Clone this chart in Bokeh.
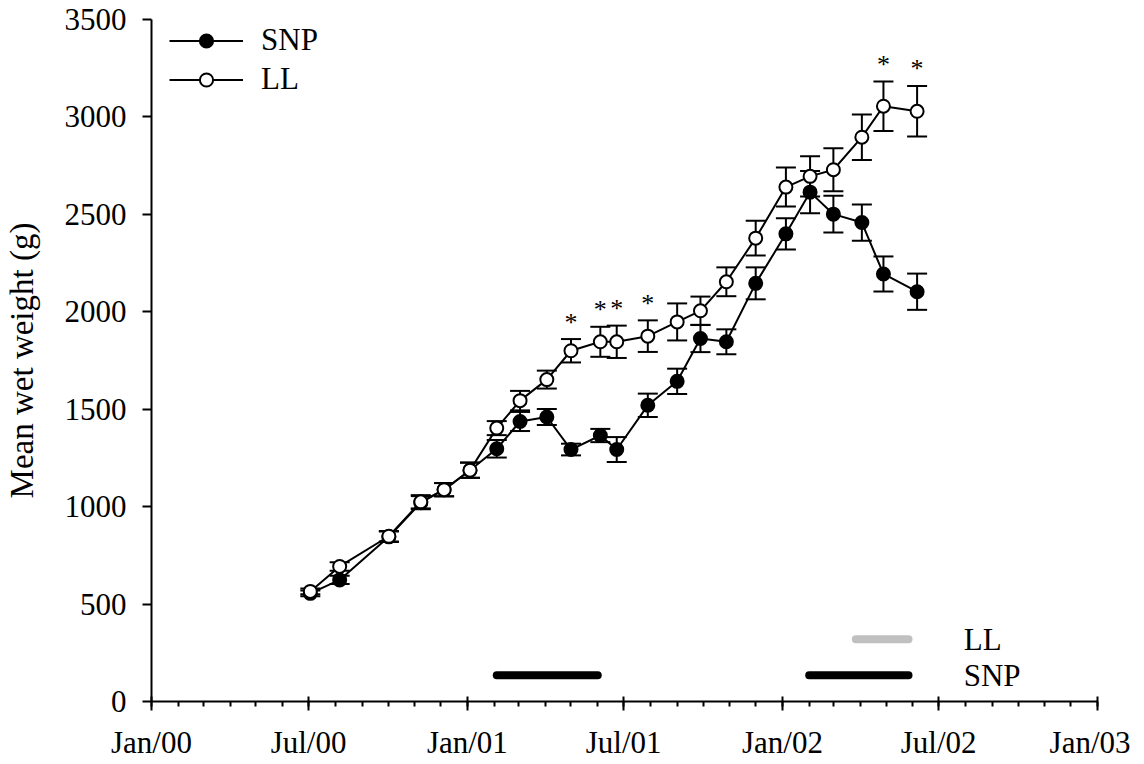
import datetime as dt
from bokeh.plotting import figure
from bokeh.models import ColumnDataSource, FixedTicker, Legend, LegendItem, Range1d
from bokeh.core.properties import value
from bokeh.embed import file_html
from bokeh.resources import INLINE

# ---------------- data ----------------
sample_dates = ["2000-07-03", "2000-08-06", "2000-10-02", "2000-11-08", "2000-12-05",
                "2001-01-04", "2001-02-04", "2001-03-03", "2001-04-03", "2001-05-01",
                "2001-06-04", "2001-06-23", "2001-07-29", "2001-09-01", "2001-09-28",
                "2001-10-28", "2001-12-01", "2002-01-05", "2002-02-02", "2002-03-01",
                "2002-04-03", "2002-04-28", "2002-06-06"]
snp_mean = [555, 624, 845, 1020, 1087, 1187, 1297, 1437, 1460, 1293, 1365, 1293,
            1520, 1643, 1863, 1846, 2146, 2400, 2614, 2501, 2458, 2194, 2103]
snp_err = [15, 21, 27, 34, 34, 39, 45, 49, 41, 30, 34, 64,
           60, 65, 70, 64, 82, 80, 108, 94, 93, 90, 93]
ll_mean = [565, 693, 848, 1025, 1087, 1187, 1403, 1544, 1652, 1800, 1846, 1846,
           1875, 1948, 2005, 2154, 2378, 2640, 2695, 2729, 2896, 3055, 3029]
ll_err = [15, 22, 27, 34, 34, 39, 36, 50, 46, 60, 77, 83,
          81, 95, 73, 74, 89, 100, 103, 110, 117, 127, 130]
signif_idx = [9, 10, 11, 12, 21, 22]   # LL points marked with *

snp_periods = [("2001-02-04", "2001-06-01"), ("2002-02-01", "2002-05-27")]
ll_periods = [("2002-03-27", "2002-05-27")]
period_levels = {"SNP": 135, "LL": 320}
period_label_date = "2002-07-30"

x_tick_labels = ["Jan/00", "Jul/00", "Jan/01", "Jul/01", "Jan/02", "Jul/02", "Jan/03"]
y_ticks = [0, 500, 1000, 1500, 2000, 2500, 3000, 3500]

# ---------------- helpers ----------------
ORIGIN = dt.date(2000, 1, 1)


def days(s):
    return (dt.date.fromisoformat(s) - ORIGIN).days


month_starts = [days(f"{2000 + m // 12}-{m % 12 + 1:02d}-01") for m in range(37)]
major_ticks = month_starts[::6]
minor_ticks = month_starts

x = [days(d) for d in sample_dates]
snp_src = ColumnDataSource(dict(x=x, y=snp_mean,
                                lo=[m - e for m, e in zip(snp_mean, snp_err)],
                                hi=[m + e for m, e in zip(snp_mean, snp_err)]))
ll_src = ColumnDataSource(dict(x=x, y=ll_mean,
                               lo=[m - e for m, e in zip(ll_mean, ll_err)],
                               hi=[m + e for m, e in zip(ll_mean, ll_err)]))

FONT = "Liberation Serif"

p = figure(frame_width=946, frame_height=682,
           min_border_left=149, min_border_right=33, min_border_top=19, min_border_bottom=40,
           x_range=Range1d(0, days("2003-01-01")), y_range=Range1d(0, 3500),
           output_backend="svg", toolbar_location=None)
p.outline_line_color = None
p.xgrid.visible = False
p.ygrid.visible = False
p.background_fill_color = "white"

# ---------------- axes ----------------
p.xaxis.ticker = FixedTicker(ticks=major_ticks, minor_ticks=minor_ticks)
p.xaxis.major_label_overrides = {t: lab for t, lab in zip(major_ticks, x_tick_labels)}
p.yaxis.ticker = FixedTicker(ticks=y_ticks, minor_ticks=[])
p.yaxis.axis_label = "Mean wet weight (g)"

for ax in (p.xaxis, p.yaxis):
    ax.axis_line_width = 2
    ax.major_tick_line_width = 2
    ax.minor_tick_line_width = 2
    ax.major_label_text_font = FONT
    ax.major_label_text_font_size = "31px"
    ax.major_label_text_color = "black"
    ax.axis_line_color = "black"
    ax.major_tick_line_color = "black"
    ax.minor_tick_line_color = "black"

p.xaxis.major_tick_in = 5
p.xaxis.major_tick_out = 9
p.xaxis.minor_tick_in = 0
p.xaxis.minor_tick_out = 5
p.xaxis.major_label_standoff = 14

p.yaxis.major_tick_in = 0
p.yaxis.major_tick_out = 9
p.yaxis.minor_tick_in = 0
p.yaxis.minor_tick_out = 0
p.yaxis.major_label_standoff = 16
p.yaxis.axis_label_text_font = FONT
p.yaxis.axis_label_text_font_size = "33px"
p.yaxis.axis_label_text_font_style = "normal"
p.yaxis.axis_label_text_color = "black"
p.yaxis.axis_label_standoff = 22

# ---------------- treatment periods ----------------
for a, b in snp_periods:
    p.segment(x0=[days(a)], y0=[period_levels["SNP"]], x1=[days(b)], y1=[period_levels["SNP"]],
              line_color="black", line_width=8, line_cap="round")
for a, b in ll_periods:
    p.segment(x0=[days(a)], y0=[period_levels["LL"]], x1=[days(b)], y1=[period_levels["LL"]],
              line_color="#c0c0c0", line_width=8, line_cap="round")
p.text(x=[days(period_label_date)] * 2, y=[period_levels["LL"], period_levels["SNP"]],
       text=["LL", "SNP"], text_font=value(FONT), text_font_size="31px",
       text_align="left", text_baseline="middle", text_color="black")

# ---------------- series ----------------
def draw_series(src, fill):
    p.segment(x0="x", y0="lo", x1="x", y1="hi", source=src, line_color="black", line_width=2)
    p.scatter(x="x", y="lo", source=src, marker="dash", size=20, line_color="black", line_width=2)
    p.scatter(x="x", y="hi", source=src, marker="dash", size=20, line_color="black", line_width=2)
    ln = p.line(x="x", y="y", source=src, line_color="black", line_width=2)
    sc = p.scatter(x="x", y="y", source=src, marker="circle", size=13,
                   fill_color=fill, line_color="black", line_width=2)
    return ln, sc


snp_line, snp_pts = draw_series(snp_src, "black")
ll_line, ll_pts = draw_series(ll_src, "white")

# significance asterisks
p.text(x=[x[i] for i in signif_idx], y=[ll_mean[i] + ll_err[i] for i in signif_idx],
       text=["*"] * len(signif_idx), text_font=value(FONT), text_font_size="26px",
       text_align="center", text_baseline="middle", y_offset=-17, text_color="black")

# ---------------- legend ----------------
legend = Legend(items=[LegendItem(label="SNP", renderers=[snp_line, snp_pts]),
                       LegendItem(label="LL", renderers=[ll_line, ll_pts])],
                location=(18, 604), glyph_width=74, glyph_height=33, label_height=33,
                spacing=3, label_standoff=18, padding=0, margin=0,
                border_line_color=None, background_fill_alpha=0,
                label_text_font=FONT, label_text_font_size="31px", label_text_color="black")
p.add_layout(legend)

open("out.html", "w").write(file_html(p, INLINE))
